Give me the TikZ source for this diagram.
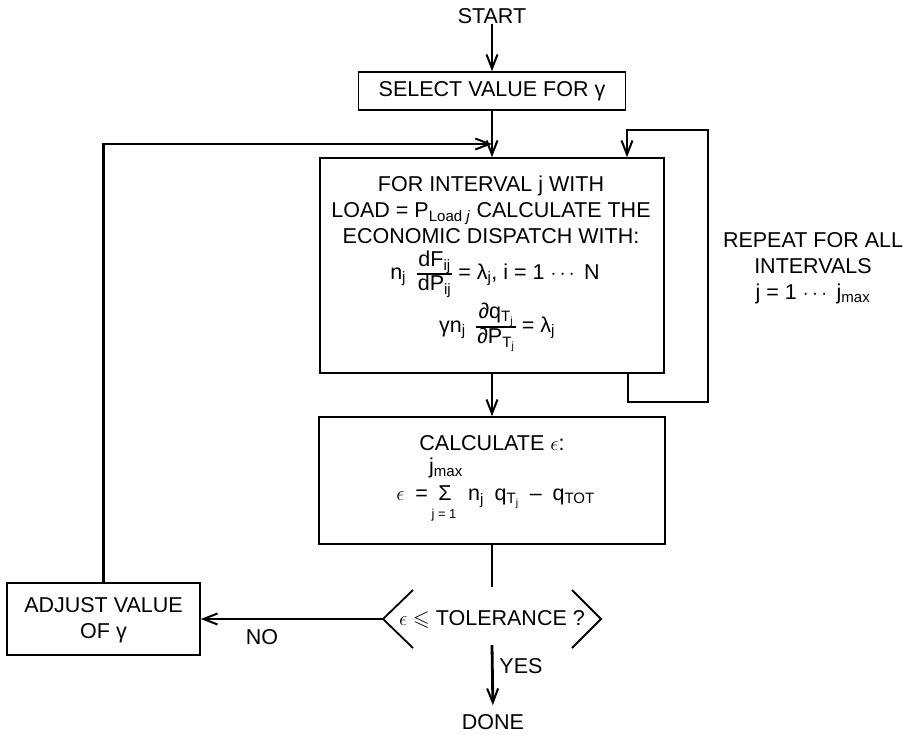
\documentclass[tikz,border=0pt]{standalone}
\usepackage{amsmath,amssymb}
\usepackage{fontspec}
\setmainfont{Liberation Sans}
\usetikzlibrary{arrows.meta}
\newcommand{\stfrac}[2]{{\renewcommand{\arraystretch}{0.9}\setlength{\arrayrulewidth}{1.1pt}\setlength{\tabcolsep}{1pt}\begin{tabular}[c]{c}#1\\\hline #2\end{tabular}}}
\begin{document}
\begin{tikzpicture}[x=1pt,y=-1pt,
  every node/.style={font=\fontsize{21.5}{26}\selectfont, inner sep=0pt, align=center},
  box/.style={draw, line width=1.6pt},
  conn/.style={line width=2.8pt},
  thinln/.style={line width=1.8pt},
  arr/.style={conn, -{Straight Barb[length=14pt,width=11pt,line width=2pt]}}]
\useasboundingbox (0,0) rectangle (908,734);

% boxes
\node[box, minimum width=267pt, minimum height=38pt] (select) at (492,91) {};
\node[box, minimum width=344pt, minimum height=215pt] (main) at (492,265.5) {};
\node[box, minimum width=346pt, minimum height=127pt] (calc) at (492,480.5) {};
\node[box, minimum width=193pt, minimum height=72pt] (adjust) at (103.5,619) {};

% texts
\node (start) at (492,16) {START};
\node (selecttxt) at (492,91) {SELECT VALUE FOR γ};
\node (maintxt) at (491,210) {FOR INTERVAL j WITH\\
  LOAD = P\textsubscript{Load \textit{j}} CALCULATE THE\\
  ECONOMIC DISPATCH WITH:};
\node (f1) at (495,274) {n\textsubscript{j}\enspace\stfrac{dF\textsubscript{ij}}{dP\textsubscript{ij}} = λ\textsubscript{j}, i = 1 $\cdots$ N};
\node (f2) at (497,327) {γn\textsubscript{j}\enspace\stfrac{∂q\textsubscript{T\textsubscript{j}}}{∂P\textsubscript{T\textsubscript{j}}} = λ\textsubscript{j}};
\node (calctxt) at (492,443) {CALCULATE $\epsilon$:};
\node (sig) at (445,493) {Σ};
\node (jmax) at (446,468) {j\textsubscript{max}};
\node[font=\fontsize{13}{14}\selectfont] (jone) at (444,515) {j = 1};
\node[anchor=base east] (epsl) at ([xshift=-10pt]sig.base west) {$\epsilon$\enspace=};
\node[anchor=base west] (f3r) at ([xshift=16pt]sig.base east) {n\textsubscript{j}\enspace q\textsubscript{T\textsubscript{j}}\enspace--\enspace q\textsubscript{TOT}};
\node (dec) at (492,619) {$\epsilon\leqslant$ TOLERANCE ?};
\node (adjusttxt) at (103.5,620) {ADJUST VALUE\\OF γ};
\node (done) at (493,722) {DONE};
\node (no) at (262,637) {NO};
\node (yes) at (521,666) {YES};
\node (repeat) at (813,268) {REPEAT FOR ALL\\INTERVALS\\j = 1 $\cdots$ j\textsubscript{max}};

% decision chevrons
\coordinate (decL) at (383,619);
\coordinate (decR) at (601,619);
\coordinate (dectop) at (492,587);
\coordinate (decbot) at (492,645);
\draw[thinln] (413,590) -- (decL) -- (413,648);
\draw[thinln] (572,590) -- (decR) -- (572,648);

% loop coordinates
\coordinate (join) at (492,144);
\coordinate (rl1) at (708,402);
\coordinate (rl2) at (708,130);

% connectors
\draw[arr] (start.south) -- (select.north);
\draw[arr] (select.south) -- (main.north);
\draw[arr] (adjust.north) |- (join);
\draw[arr] ([xshift=136pt]main.south) |- (rl1) -- (rl2) -| ([xshift=135pt]main.north);
\draw[arr] (main.south) -- (calc.north);
\draw[conn] (calc.south) -- (dectop);
\draw[arr] (decL) -- (adjust.east);
\draw[arr, shorten >=9pt] (decbot) -- (done.north);
\end{tikzpicture}
\end{document}
